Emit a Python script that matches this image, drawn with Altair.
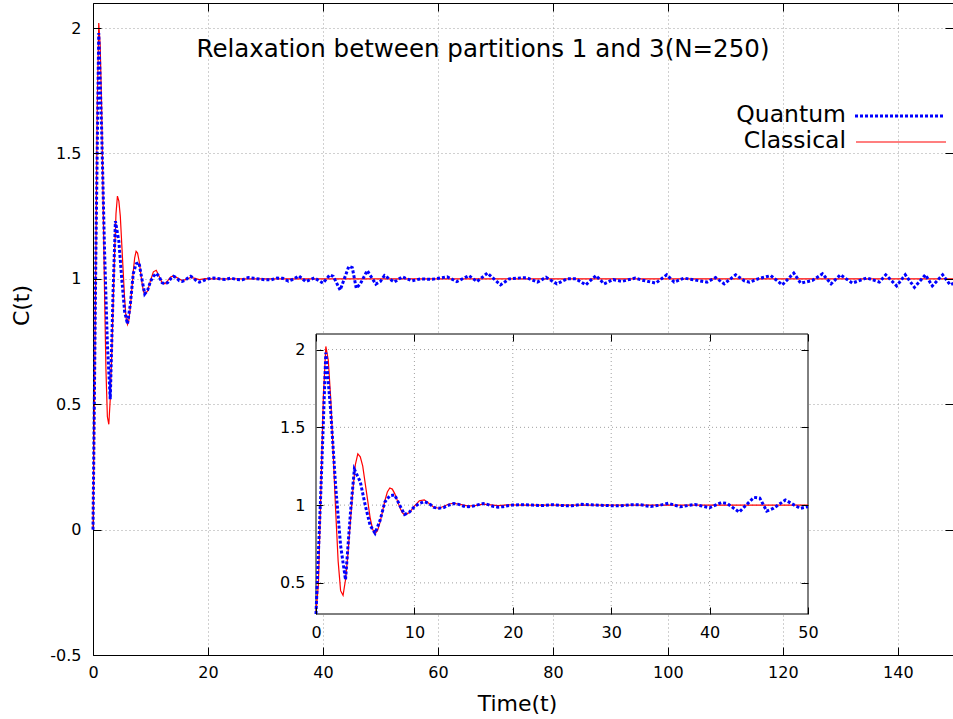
import altair as alt
import pandas as pd

# ---------------- data ----------------
classical_t = [0, 0.25, 0.5, 0.75, 1.0, 1.25, 1.5, 1.75, 2.0, 2.25,
               2.5, 2.75, 3.0, 3.25, 3.5, 3.75, 4.0, 4.25, 4.5, 4.75,
               5.0, 5.25, 5.5, 5.75, 6.0, 6.25, 6.5, 6.75, 7.0, 7.25,
               7.5, 7.75, 8.0, 8.25, 8.5, 8.75, 9.0, 9.5, 10.0, 10.5,
               11.0, 11.5, 12.0, 12.5, 13.0, 13.5, 14.0, 14.75, 15.5, 16.25,
               17.0, 17.75, 18.5, 19.5, 21, 30, 50, 80, 120, 150]
classical_c = [0.0, 0.5, 1.1, 1.7, 2.02, 1.93, 1.68, 1.33, 0.96, 0.64,
               0.45, 0.42, 0.52, 0.69, 0.90, 1.10, 1.26, 1.33, 1.31, 1.25,
               1.14, 1.03, 0.92, 0.845, 0.818, 0.836, 0.887, 0.957, 1.028, 1.084,
               1.11, 1.103, 1.074, 1.032, 0.988, 0.953, 0.937, 0.952, 0.993, 1.028,
               1.034, 1.01, 0.985, 0.98, 0.993, 1.007, 1.012, 1.003, 0.993, 0.998,
               1.006, 1.002, 0.997, 1.001, 1.0, 1.0, 1.0, 1.0, 1.0, 1.0]

quantum_t = [0, 0.5, 1.0, 1.5, 2.0, 2.5, 3.0, 3.5, 3.9, 4.5,
             5.0, 5.5, 6.0, 6.5, 7.0, 7.5, 8.0, 8.5, 9.0, 9.5,
             10.0, 10.5, 11.0, 11.5, 12.0, 12.5, 13.0, 13.5, 14.0, 14.5,
             15.0, 15.5, 16.0, 16.5, 17.0, 17.5, 18.0, 18.5, 19.0, 19.5,
             20, 21, 22, 23, 24, 25, 26, 27, 28, 29,
             30, 31, 32, 33, 34, 35, 35.8, 37, 38.5, 40,
             41.2, 41.8, 43, 44.5, 45.1, 45.8, 46.5, 47.7, 49.2, 50,
             50.7, 52.4, 53.8, 55.5, 57, 59, 61.6, 63.3, 65.4, 66.8,
             68.6, 70.9, 72.4, 74.5, 75.5, 77.3, 78.8, 80.7, 82.5, 84,
             85.7, 87.5, 88.9, 90.5, 92, 94.3, 95.5, 97.9, 99.8, 101.1,
             102.8, 104.5, 106.8, 108.3, 109.8, 111.8, 113.3, 114.2, 115.7, 117.9,
             119.9, 121.9, 123.1, 125.1, 126.9, 128.4, 130, 132.1, 134.6, 136.8,
             137.9, 139.8, 141.3, 142.9, 144.8, 146, 147.8, 149.1, 150]
quantum_c = [0.0, 1.1, 1.98, 1.6, 1.12, 0.74, 0.52, 0.95, 1.23, 1.15,
             1.0, 0.87, 0.82, 0.9, 1.02, 1.06, 1.065, 1.0, 0.94, 0.955,
             0.99, 1.01, 1.022, 1.01, 0.985, 0.98, 0.985, 1.0, 1.01, 1.005,
             0.993, 0.99, 0.994, 1.003, 1.01, 1.003, 0.992, 0.987, 0.99, 0.996,
             1.0, 1.003, 1.0, 0.997, 1.003, 0.997, 0.996, 1.005, 1.002, 0.999,
             0.996, 0.996, 1.003, 1.002, 0.991, 1.0, 1.012, 0.989, 1.004, 0.983,
             1.016, 1.01, 0.955, 1.05, 1.045, 0.962, 0.98, 1.033, 0.979, 0.99,
             1.013, 0.987, 1.008, 0.992, 1.0, 0.998, 1.008, 0.989, 1.013, 0.989,
             1.023, 0.976, 1.0, 1.004, 1.004, 0.987, 1.006, 0.98, 1.0, 1.0,
             0.976, 1.013, 0.98, 0.997, 0.99, 1.003, 0.995, 0.983, 1.016, 0.987,
             1.003, 0.996, 0.987, 1.005, 0.98, 1.016, 0.992, 0.987, 1.0, 1.013,
             0.976, 1.023, 0.983, 0.993, 1.02, 0.98, 1.016, 0.983, 1.004, 0.987,
             1.016, 0.972, 1.016, 0.966, 1.016, 0.972, 1.016, 0.976, 0.985]

main_x_domain = [0, 149.6]
main_y_domain = [-0.5, 2.1]
main_x_ticks = [0, 20, 40, 60, 80, 100, 120, 140]
main_y_ticks = [-0.5, 0, 0.5, 1, 1.5, 2]

inset_x_domain = [0, 50]
inset_y_domain = [0.3, 2.1]
inset_x_ticks = [0, 10, 20, 30, 40, 50]
inset_y_ticks = [0.5, 1, 1.5, 2]
inset_x_grid = [10, 20, 30, 40]
inset_y_grid = [0.5, 1, 1.5, 2]

title_text = ["Relaxation between partitions 1 and 3(N=250)"]
legend_labels = ["Quantum", "Classical"]
x_title = "Time(t)"
y_title = "C(t)"

# ---------------- styling / layout ----------------
W, H = 860, 652
PAD_L, PAD_T = 93, 3
IN_L, IN_R, IN_T, IN_B = 223, 715, 331, 611   # inset frame inside plot area (px)
FONT = "DejaVu Sans"
BLUE, RED, GRID = "#0000ff", "#ff0000", "#a0a0a0"
LABEL_EXPR = "datum.value < 0 ? '-' + format(-datum.value, '~g') : format(datum.value, '~g')"

quantum = pd.DataFrame({"t": quantum_t, "C": quantum_c})
classical = pd.DataFrame({"t": classical_t, "C": classical_c})

mx = alt.Scale(domain=main_x_domain, nice=False, zero=False)
my = alt.Scale(domain=main_y_domain, nice=False, zero=False)
ix = alt.Scale(domain=inset_x_domain, range=[IN_L, IN_R], nice=False, zero=False)
iy = alt.Scale(domain=inset_y_domain, range=[IN_B, IN_T], nice=False, zero=False, clamp=True)


def tick_axis(orient, offset, values, size=8, domain=False):
    return alt.Axis(orient=orient, offset=offset, values=values, labels=False,
                    ticks=True, tickSize=size, tickColor="black", tickWidth=1,
                    domain=domain, domainColor="black", grid=False, title=None,
                    zindex=1)


# ---------------- main plot ----------------
main_x_axis = alt.Axis(orient="bottom", values=main_x_ticks, labelExpr=LABEL_EXPR,
                       labelFontSize=16, labelPadding=9, labelFlush=False,
                       labelOverlap=False, ticks=False, tickSize=0,
                       domain=True, domainColor="black", grid=True, gridColor=GRID,
                       gridDash=[1, 3], gridWidth=1, title=x_title, titleFontSize=22,
                       titleX=W / 2 - 6, titleY=48, titleBaseline="middle",
                       titleAlign="center", zindex=0)
main_y_axis = alt.Axis(orient="left", values=main_y_ticks, labelExpr=LABEL_EXPR,
                       labelFontSize=16, labelPadding=12, labelFlush=False,
                       labelOverlap=False, ticks=False, tickSize=0,
                       domain=True, domainColor="black", grid=True, gridColor=GRID,
                       gridDash=[1, 3], gridWidth=1, title=y_title, titleFontSize=22,
                       titleX=-72, titleY=302, titleAngle=270, titleBaseline="middle",
                       titleAlign="center", zindex=0)

m_red = alt.Chart(classical).mark_line(color=RED, strokeWidth=1.2).encode(
    x=alt.X("t:Q", scale=mx, axis=main_x_axis),
    y=alt.Y("C:Q", scale=my, axis=main_y_axis),
)
m_blue = alt.Chart(quantum).mark_line(color=BLUE, strokeWidth=3, strokeDash=[3, 2]).encode(
    x=alt.X("t:Q", scale=mx, axis=tick_axis("top", -H, main_x_ticks)),
    y=alt.Y("C:Q", scale=my, axis=tick_axis("right", -W, main_y_ticks)),
)
m_mirror = alt.Chart(classical).mark_line(opacity=0).encode(
    x=alt.X("t:Q", scale=mx, axis=tick_axis("bottom", -H, main_x_ticks, domain=True)),
    y=alt.Y("C:Q", scale=my, axis=tick_axis("left", -W, main_y_ticks)),
)
main = alt.layer(m_red, m_blue, m_mirror).resolve_axis(x="independent", y="independent")

# ---------------- inset ----------------
box = pd.DataFrame({"x0": [inset_x_domain[0]], "x1": [inset_x_domain[1]],
                    "y0": [inset_y_domain[0]], "y1": [inset_y_domain[1]]})
gx = pd.DataFrame({"t": inset_x_grid, "lo": inset_y_domain[0], "hi": inset_y_domain[1]})
gy = pd.DataFrame({"C": inset_y_grid, "lo": inset_x_domain[0], "hi": inset_x_domain[1]})

inset_x_axis = alt.Axis(orient="bottom", offset=-(H - IN_B), values=inset_x_ticks,
                        labelExpr=LABEL_EXPR, labelFontSize=16, labelPadding=10,
                        labelFlush=False, labelOverlap=False, ticks=False, tickSize=0,
                        domain=False, grid=False, title=None, zindex=1)
inset_y_axis = alt.Axis(orient="left", offset=-IN_L, values=inset_y_ticks,
                        labelExpr=LABEL_EXPR, labelFontSize=16, labelPadding=11,
                        labelFlush=False, labelOverlap=False, ticks=False, tickSize=0,
                        domain=False, grid=False, title=None, zindex=1)

i_bg = alt.Chart(box).mark_rect(fill="white", stroke="black", strokeWidth=1).encode(
    x=alt.X("x0:Q", scale=ix, axis=inset_x_axis), x2="x1:Q",
    y=alt.Y("y0:Q", scale=iy, axis=inset_y_axis), y2="y1:Q",
)
i_gx = alt.Chart(gx).mark_rule(color=GRID, strokeDash=[1, 3], strokeWidth=1).encode(
    x=alt.X("t:Q", scale=ix, axis=None),
    y=alt.Y("lo:Q", scale=iy, axis=None), y2="hi:Q",
)
i_gy = alt.Chart(gy).mark_rule(color=GRID, strokeDash=[1, 3], strokeWidth=1).encode(
    x=alt.X("lo:Q", scale=ix, axis=None), x2="hi:Q",
    y=alt.Y("C:Q", scale=iy, axis=None),
)
i_red = alt.Chart(classical).transform_filter("datum.t <= 50").mark_line(
    color=RED, strokeWidth=1.2).encode(
    x=alt.X("t:Q", scale=ix, axis=tick_axis("top", -IN_B, inset_x_ticks, 7)),
    y=alt.Y("C:Q", scale=iy, axis=tick_axis("right", -(W - IN_L), inset_y_ticks, 7)),
)
i_blue = alt.Chart(quantum).transform_filter("datum.t <= 50").mark_line(
    color=BLUE, strokeWidth=3, strokeDash=[3, 2]).encode(
    x=alt.X("t:Q", scale=ix, axis=tick_axis("bottom", -(H - IN_T), inset_x_ticks, 7)),
    y=alt.Y("C:Q", scale=iy, axis=tick_axis("left", -IN_R, inset_y_ticks, 7)),
)
inset = alt.layer(i_bg, i_gx, i_gy, i_red, i_blue).resolve_axis(x="independent", y="independent")

# ---------------- title and key ----------------
title = alt.Chart(pd.DataFrame({"label": title_text})).mark_text(
    font=FONT, fontSize=24.5, color="black", align="center", baseline="middle").encode(
    x=alt.value(390), y=alt.value(47), text="label:N")
key_q = alt.Chart(pd.DataFrame({"label": [legend_labels[0]]})).mark_text(
    font=FONT, fontSize=23.5, color="black", align="right", baseline="middle").encode(
    x=alt.value(753), y=alt.value(112), text="label:N")
key_c = alt.Chart(pd.DataFrame({"label": [legend_labels[1]]})).mark_text(
    font=FONT, fontSize=23.5, color="black", align="right", baseline="middle").encode(
    x=alt.value(753), y=alt.value(138), text="label:N")
key_q_line = alt.Chart(pd.DataFrame({"label": [legend_labels[0]]})).mark_rule(
    color=BLUE, strokeWidth=3, strokeDash=[3, 2]).encode(
    x=alt.value(762), x2=alt.value(852), y=alt.value(113))
key_c_line = alt.Chart(pd.DataFrame({"label": [legend_labels[1]]})).mark_rule(
    color=RED, strokeWidth=1.2).encode(
    x=alt.value(763), x2=alt.value(853), y=alt.value(139))

chart = alt.layer(main, inset, title, key_q, key_c, key_q_line, key_c_line).resolve_scale(
    x="independent", y="independent"
).properties(
    width=W, height=H,
    autosize=alt.AutoSizeParams(type="none"),
    padding={"left": PAD_L, "top": PAD_T, "right": 0, "bottom": 64},
    background="white",
).configure_view(stroke=None).configure_axis(
    labelFont=FONT, titleFont=FONT, labelColor="black", titleColor="black",
    titleFontWeight="normal",
)

chart.save("out.html", embed_options={"renderer": "svg", "actions": False})
